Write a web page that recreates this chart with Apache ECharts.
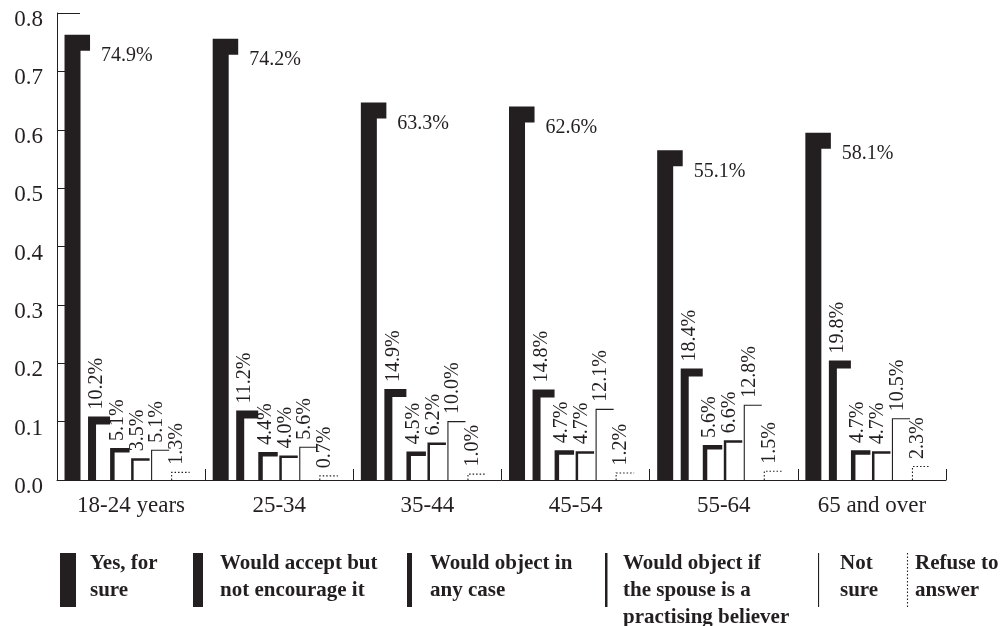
<!DOCTYPE html>
<html>
<head>
<meta charset="utf-8">
<script src="https://cdn.jsdelivr.net/npm/echarts@6/dist/echarts.min.js"></script>
<style>
html,body{margin:0;padding:0;background:#fff;}
#chart{width:1005px;height:626px;}
</style>
</head>
<body>
<div id="chart"></div>
<script>
// ---- data ----
const categories = ['18-24 years', '25-34', '35-44', '45-54', '55-64', '65 and over'];
const seriesNames = ['Yes, for sure', 'Would accept but not encourage it', 'Would object in any case',
  'Would object if the spouse is a practising believer', 'Not sure', 'Refuse to answer'];
const legendLabels = ['Yes, for\nsure', 'Would accept but\nnot encourage it', 'Would object in\nany case',
  'Would object if\nthe spouse is a\npractising believer', 'Not\nsure', 'Refuse to\nanswer'];
const yesForSure = [74.9, 74.2, 63.3, 62.6, 55.1, 58.1];
const acceptNotEncourage = [10.2, 11.2, 14.9, 14.8, 18.4, 19.8];
const objectAnyCase = [5.1, 4.4, 4.5, 4.7, 5.6, 4.7];
const objectIfBeliever = [3.5, 4.0, 6.2, 4.7, 6.6, 4.7];
const notSure = [5.1, 5.6, 10.0, 12.1, 12.8, 10.5];
const refuseToAnswer = [1.3, 0.7, 1.0, 1.2, 1.5, 2.3];
const yTicks = [0, 0.1, 0.2, 0.3, 0.4, 0.5, 0.6, 0.7, 0.8];

const allSeries = [yesForSure, acceptNotEncourage, objectAnyCase, objectIfBeliever, notSure, refuseToAnswer];

// ---- styles (positions within a category band of reference width 148) ----
const INK = '#231f20';
const FONT = '"Liberation Serif", "DejaVu Serif", serif';
const barStyles = [
  { cx: 15.5, end: 33, w: 16, dash: null, rotated: false },
  { cx: 35,   end: 53, w: 8,  dash: null, rotated: true },
  { cx: 55.3, end: 72.5, w: 4.5, dash: null, rotated: true },
  { cx: 75.3, end: 92.5, w: 2.5, dash: null, rotated: true },
  { cx: 94.5, end: 112, w: 1.1, dash: null, rotated: true },
  { cx: 114.5, end: 132.5, w: 1.1, dash: [1.5, 2], rotated: true }
];
const legendLayout = [
  { sx: 60, sw: 16, tx: 90 },
  { sx: 193, sw: 10, tx: 220 },
  { sx: 407, sw: 5, tx: 430 },
  { sx: 605, sw: 2.5, tx: 623 },
  { sx: 818, sw: 1.1, tx: 840 },
  { sx: 907.5, sw: 1.1, tx: 915, dash: [1.5, 2] }
];

function makeRender(k) {
  const st = barStyles[k];
  return function (params, api) {
    const ci = api.value(0);
    const v = api.value(1);
    const pct = api.value(2);
    const band = api.size([1, 0])[0];
    const base = api.coord([ci, 0]);
    const top = api.coord([ci, v]);
    const sc = band / 148;
    const left = base[0] - band / 2;
    const cx = left + st.cx * sc;
    const ex = left + st.end * sc;
    const children = [{
      type: 'polyline',
      shape: { points: [[cx, base[1]], [cx, top[1]], [ex, top[1]]] },
      style: { stroke: INK, fill: null, lineWidth: st.w, lineDash: st.dash, lineJoin: 'miter', lineCap: 'butt' }
    }];
    const txt = pct.toFixed(1) + '%';
    if (st.rotated) {
      children.push({
        type: 'text',
        x: cx + 5,
        y: top[1] - st.w / 2 - 7,
        rotation: Math.PI / 2,
        style: { text: txt, font: '20px ' + FONT, fill: INK, align: 'left', verticalAlign: 'middle' }
      });
    } else {
      children.push({
        type: 'text',
        x: ex + 11,
        y: top[1] + 13,
        style: { text: txt, font: '20px ' + FONT, fill: INK, align: 'left', verticalAlign: 'middle' }
      });
    }
    return { type: 'group', children: children };
  };
}

// legend drawn as graphic elements
const graphics = [];
legendLayout.forEach(function (L, k) {
  if (L.dash) {
    graphics.push({ type: 'line', shape: { x1: L.sx, y1: 553, x2: L.sx, y2: 607 },
      style: { stroke: INK, lineWidth: L.sw, lineDash: L.dash } });
  } else {
    graphics.push({ type: 'rect', shape: { x: L.sx, y: 553, width: L.sw, height: 54 },
      style: { fill: INK } });
  }
  graphics.push({ type: 'text', x: L.tx, y: 550,
    style: { text: legendLabels[k], font: 'bold 21px ' + FONT, lineHeight: 27, fill: INK,
      align: 'left', verticalAlign: 'top' } });
});

const chart = echarts.init(document.getElementById('chart'));
chart.setOption({
  animation: false,
  backgroundColor: '#fff',
  grid: { left: 57, right: 59, top: 13, bottom: 146, containLabel: false },
  xAxis: {
    type: 'category',
    data: categories,
    boundaryGap: true,
    axisLine: { lineStyle: { color: INK, width: 1 } },
    axisTick: { show: true, inside: true, length: 11, lineStyle: { color: INK } },
    axisLabel: { color: INK, fontFamily: FONT, fontSize: 23, margin: 14, interval: 0 }
  },
  yAxis: {
    type: 'value',
    min: yTicks[0],
    max: yTicks[yTicks.length - 1],
    interval: 0.1,
    splitLine: { show: false },
    axisLine: { show: true, lineStyle: { color: INK, width: 1 } },
    axisTick: { show: true, inside: true, length: 23, lineStyle: { color: INK } },
    axisLabel: { color: INK, margin: 14,
      formatter: function (v) { return '{a|' + v.toFixed(1) + '}'; },
      rich: { a: { fontFamily: FONT, fontSize: 23, color: INK, padding: [14, 0, 0, 0] } } }
  },
  series: allSeries.map(function (vals, k) {
    return {
      type: 'custom',
      name: seriesNames[k],
      renderItem: makeRender(k),
      data: vals.map(function (v, i) { return [i, v / 100, v]; }),
      encode: { x: 0, y: 1 },
      z: 2
    };
  }),
  graphic: graphics
});
</script>
</body>
</html>
